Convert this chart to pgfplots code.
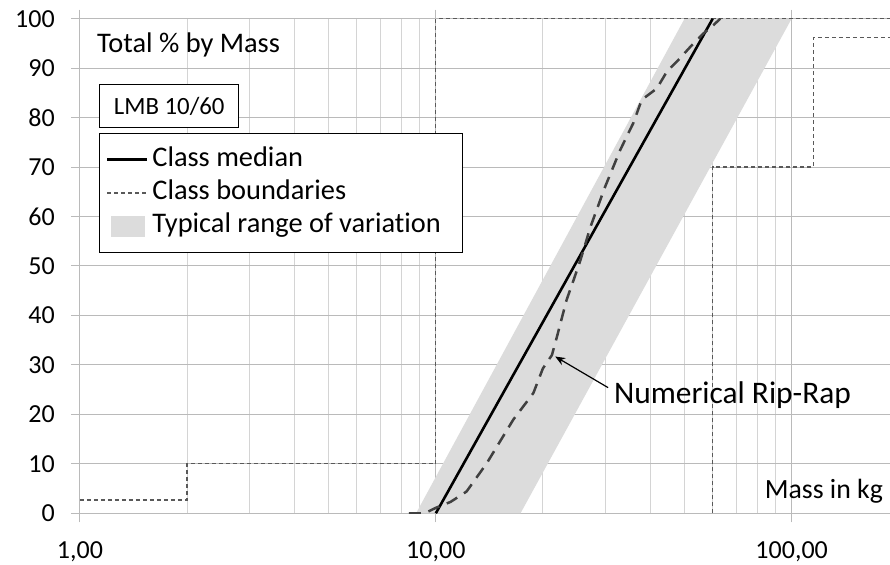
\documentclass[border=0pt]{standalone}
\usepackage{fontspec}
\setmainfont[Ligatures=NoCommon]{Carlito}
\usepackage{pgfplots}
\pgfplotsset{compat=1.18}
\usetikzlibrary{arrows.meta}

\definecolor{bandgray}{HTML}{DCDCDC}
\definecolor{bndgray}{HTML}{595959}
\definecolor{numgray}{HTML}{404040}

\pgfplotsset{
    shortline legend/.style={legend image code/.code={\draw[##1] (0pt,0pt) -- (20pt,0pt);}},
    band legend/.style={legend image code/.code={\fill[bandgray] (2.3pt,-5pt) rectangle (18.6pt,5pt);}},
}

\begin{document}
\begin{tikzpicture}
\begin{axis}[
    xmode=log,
    scale only axis,
    width=405pt, height=247.3pt,
    xmin=1, xmax=189, ymin=0, ymax=100,
    xtick={1,10,100},
    xticklabels={{1,00},{10,00},{100,00}},
    minor xtick={2,3,4,5,6,7,8,9,20,30,40,50,60,70,80,90},
    ytick={0,10,...,100},
    xmajorgrids, xminorgrids, ymajorgrids,
    major grid style={draw=black!27, line width=0.5pt},
    minor grid style={draw=black!17, line width=0.5pt},
    axis line style={draw=none},
    tick align=outside,
    major tick length=4.5pt, minor tick length=0pt,
    tick style={black!27, line width=0.5pt},
    /pgf/number format/assume math mode=true,
    ticklabel style={font=\fontsize{13}{15}\selectfont},
    yticklabel style={xshift=-4.6pt},
    xticklabel style={yshift=-6pt},
    legend style={
        at={(0.0238,0.768)}, anchor=north west,
        draw=black, line width=0.5pt, fill=white,
        font=\fontsize{14.2}{17}\selectfont,
        inner xsep=3pt, inner ysep=4.5pt,
        nodes={text height=10pt, text depth=3.5pt, inner ysep=1.6pt},
    },
    legend cell align=left,
]

% typical range of variation
\addplot[fill=bandgray, draw=none, forget plot] coordinates {
    (8.8,0) (17.3,0) (100,100) (50,100)} -- cycle;

% class boundaries
\addplot[color=bndgray, line width=0.65pt, dash pattern=on 2pt off 1.5pt, forget plot] coordinates {
    (1,2.7) (2,2.7) (2,10) (10,10) (10,100) (189,100)};
\addplot[color=bndgray, line width=0.65pt, dash pattern=on 2pt off 1.5pt, forget plot] coordinates {
    (60,0) (60,70) (115,70) (115,96.2) (189,96.2)};

% class median
\addplot[black, line width=1.3pt, forget plot] coordinates {(10,0) (60,100)};

% numerical rip-rap
\addplot[color=numgray, line width=1.25pt, dash pattern=on 6pt off 4pt, forget plot] coordinates {
    (8.4,0) (9.3,0) (10,1.1) (11.0,2.3) (12.2,4.4) (13.9,10.1) (16.5,18.9)
    (18.8,24.3) (20.0,29.3) (21.2,32.0) (21.9,35.7) (23.3,43.1) (24.4,47.2)
    (25.5,51.2) (27.2,57.9) (29.9,66.0) (33.0,73.5) (35.9,78.9) (37.9,83.6)
    (41.8,85.9) (44.6,89.3) (48.1,91.7) (51.9,94.3) (56.5,97.0) (60.3,98.7)
    (63.0,100)};

\addlegendimage{black, line width=1.3pt, shortline legend}
\addlegendentry{Class median}
\addlegendimage{color=bndgray, line width=0.65pt, dash pattern=on 2pt off 1.5pt, shortline legend}
\addlegendentry{Class boundaries}
\addlegendimage{band legend}
\addlegendentry{Typical range of variation\kern6pt\null}

\node[anchor=west, inner sep=0pt, font=\fontsize{14.2}{17}\selectfont] at (axis cs:1.114,94.7) {Total \% by Mass};
\node[draw=black, line width=0.5pt, fill=white, minimum width=69.7pt, minimum height=21.5pt,
      anchor=north west, font=\fontsize{12.4}{14}\selectfont]
      at (rel axis cs:0.0235,0.867) {LMB 10/60};
\node[anchor=east, inner sep=0pt, font=\fontsize{13.9}{16}\selectfont] at (axis cs:181,4.5) {Mass in kg};
\draw[-{Stealth[length=5pt,width=4pt]}, line width=0.6pt] (axis cs:30.5,25.4) -- (axis cs:21.65,31.7);
\node[anchor=west, inner sep=0pt, font=\fontsize{15.7}{18}\selectfont] at (axis cs:31.6,23.9) {Numerical Rip-Rap};
\end{axis}
\pgfresetboundingbox
\path ([xshift=-40pt,yshift=-25.85pt]current axis.south west) rectangle ([yshift=9.35pt]current axis.north east);
\end{tikzpicture}
\end{document}
